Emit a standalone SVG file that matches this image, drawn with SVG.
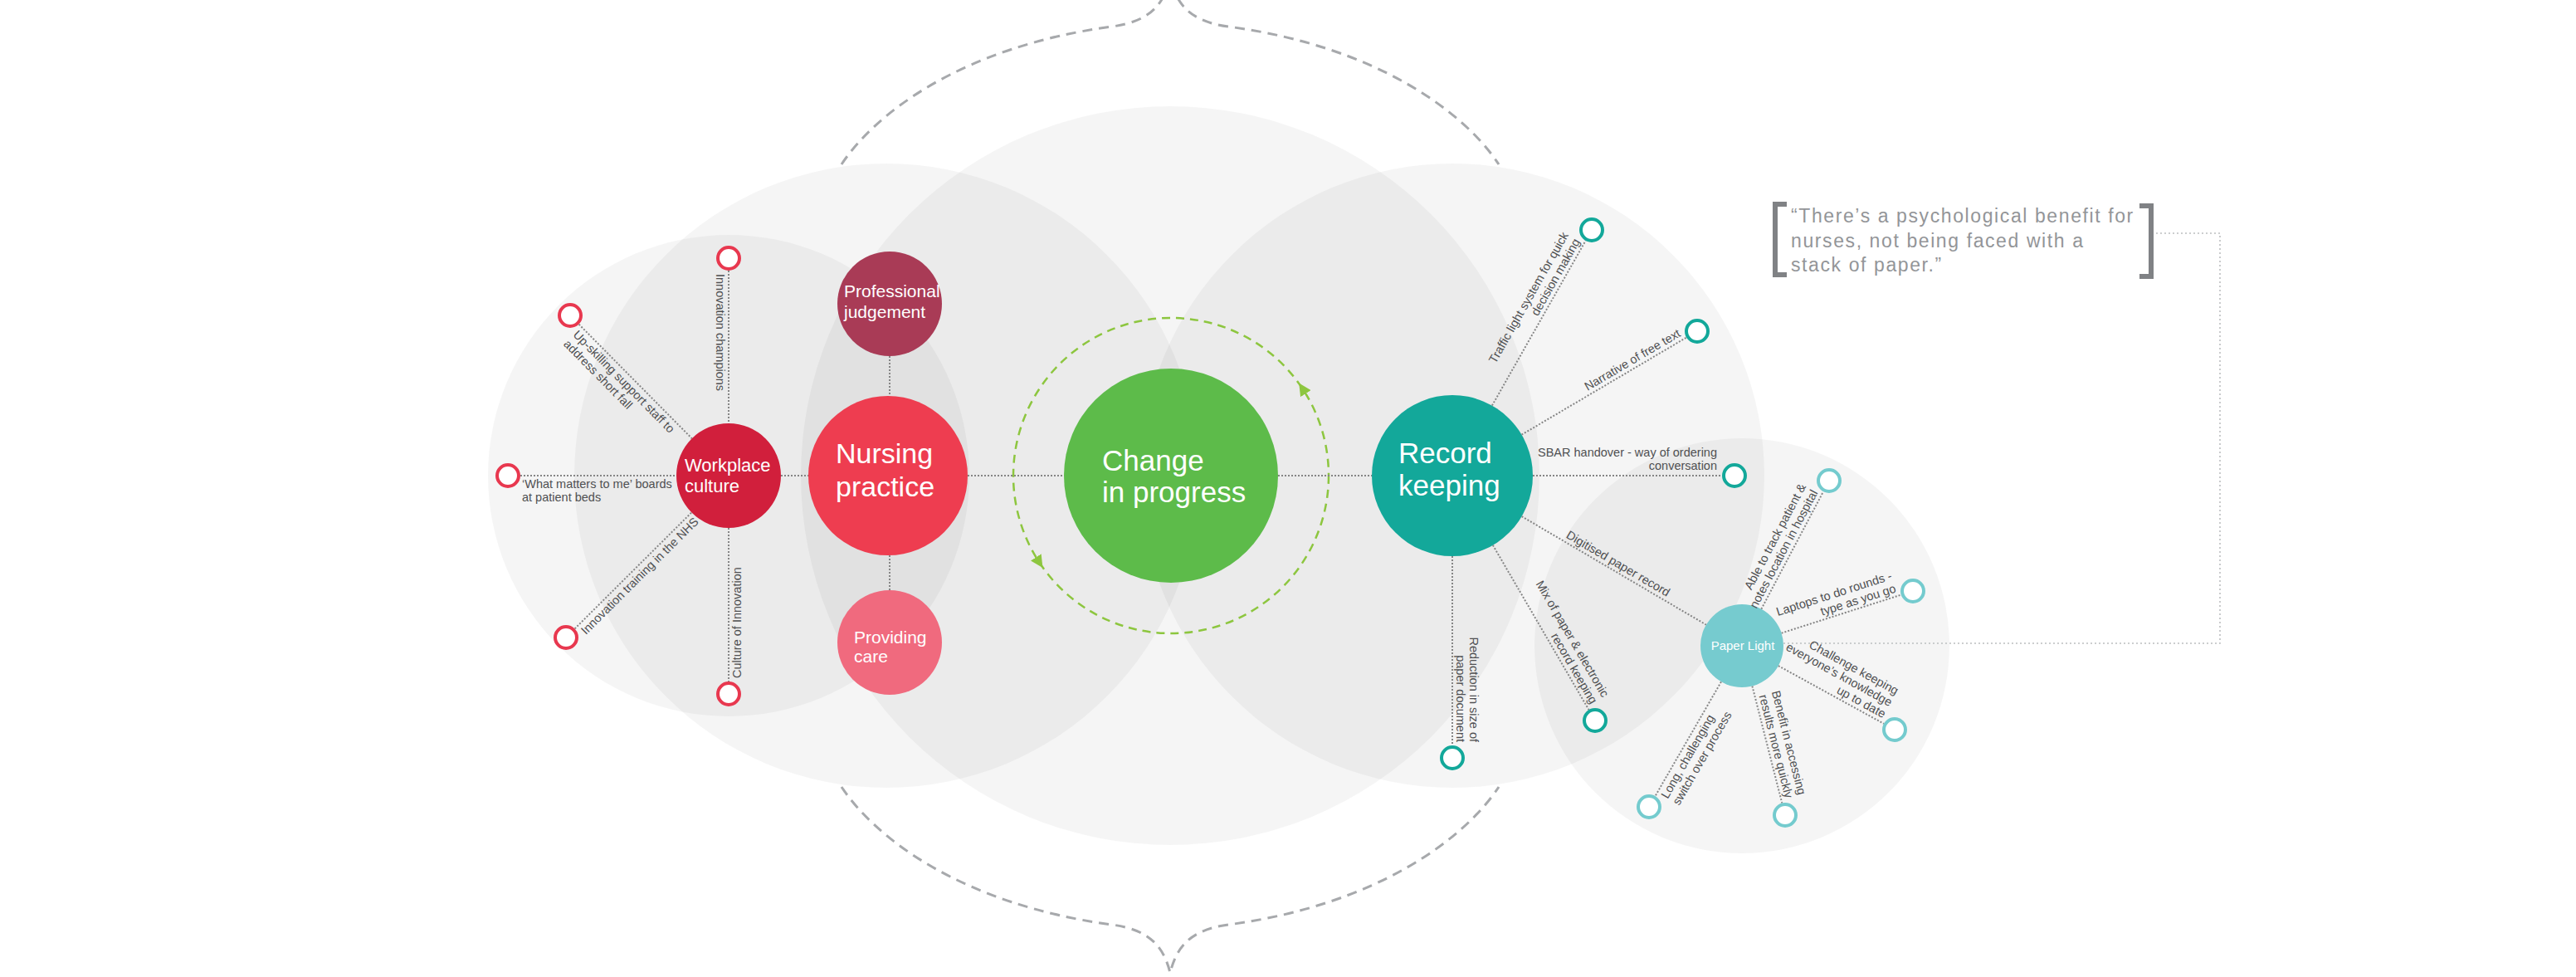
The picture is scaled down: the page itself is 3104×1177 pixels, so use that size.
<svg xmlns="http://www.w3.org/2000/svg" width="3104" height="1177" viewBox="0 0 3104 1177">
<defs>
<style>
.bg{fill:#000;fill-opacity:0.041}
.frame{fill:none;stroke:#a7a9ac;stroke-width:3;stroke-dasharray:12 8}
.cyc{fill:none;stroke:#8dc63f;stroke-width:2.5;stroke-dasharray:10 7}
.dot{fill:none;stroke:#858585;stroke-width:2;stroke-dasharray:2 2}
.dotl{fill:none;stroke:#bcbec0;stroke-width:1.6;stroke-dasharray:2 3}
.ringR{fill:#fff;stroke:#e8384f;stroke-width:4}
.ringT{fill:#fff;stroke:#13a89a;stroke-width:4}
.ringL{fill:#fff;stroke:#74cbce;stroke-width:4}
.lbl{font-family:'Liberation Sans',Arial,sans-serif;font-size:14.5px;fill:#4f5052}
.end{text-anchor:end}
.mid{text-anchor:middle}
.nt{font-family:'Liberation Sans',Arial,sans-serif;fill:#fff}
.q{font-family:'Liberation Sans',Arial,sans-serif;font-size:23px;fill:#939598;letter-spacing:1.6px}
.br{fill:none;stroke:#808285;stroke-width:6}
</style>
<marker id="ga" viewBox="0 0 10 10" refX="5" refY="5" markerWidth="15" markerHeight="15" markerUnits="userSpaceOnUse" orient="auto">
<path d="M0,0 L10,5 L0,10 z" fill="#8dc63f"/>
</marker>
</defs>
<rect width="3104" height="1177" fill="#fff"/>

<g id="background">
<circle class="bg" cx="878" cy="573" r="290"/>
<circle class="bg" cx="1068" cy="573" r="376"/>
<circle class="bg" cx="1410" cy="573" r="445"/>
<circle class="bg" cx="1750" cy="573" r="376"/>
<circle class="bg" cx="2099" cy="778" r="250"/>
</g>

<g id="frame">
<path class="frame" d="M1014,198 C1055,136 1160,56 1340,32 C1385,26 1402,6 1410,-26 C1418,6 1435,26 1480,32 C1660,56 1765,136 1806,198"/>
<path class="frame" d="M1014,948 C1055,1010 1160,1090 1340,1114 C1385,1120 1402,1140 1410,1172 C1418,1140 1435,1120 1480,1114 C1660,1090 1765,1010 1806,948"/>
</g>

<g id="cycle">
<circle class="cyc" cx="1411" cy="573" r="190"/>
<path d="M1570.4,469.6 L1569.3,467.9" stroke="#8dc63f" stroke-width="1" marker-end="url(#ga)"/>
<path d="M1251.3,676 L1252.4,677.7" stroke="#8dc63f" stroke-width="1" marker-end="url(#ga)"/>
</g>

<g id="connectors">
<line class="dot" x1="627" y1="573" x2="815" y2="573"/>
<line class="dot" x1="941" y1="573" x2="975" y2="573"/>
<line class="dot" x1="1166" y1="573" x2="1282" y2="573"/>
<line class="dot" x1="1540" y1="573" x2="1653" y2="573"/>
<line class="dot" x1="1847" y1="573" x2="2075" y2="573"/>
<line class="dot" x1="1072" y1="429" x2="1072" y2="477"/>
<line class="dot" x1="1072" y1="669" x2="1072" y2="711"/>
<line class="dot" x1="878" y1="326" x2="878" y2="510"/>
<line class="dot" x1="697.6" y1="390.7" x2="833.7" y2="528.2"/>
<line class="dot" x1="692.6" y1="757.4" x2="833.3" y2="617.4"/>
<line class="dot" x1="878" y1="636" x2="878" y2="821"/>
<line class="dot" x1="1797.9" y1="488.6" x2="1910.6" y2="290"/>
<line class="dot" x1="1833.5" y1="523.7" x2="2032.1" y2="406.6"/>
<line class="dot" x1="1798.9" y1="656.8" x2="1914.4" y2="855"/>
<line class="dot" x1="1750" y1="670" x2="1750" y2="898"/>
<line class="dot" x1="1833.6" y1="622.1" x2="2055.9" y2="752.7"/>
<line class="dot" x1="2122.3" y1="733.8" x2="2197" y2="592.3"/>
<line class="dot" x1="2146.6" y1="762.7" x2="2290.7" y2="716.6"/>
<line class="dot" x1="2142.8" y1="802.1" x2="2269.9" y2="871.8"/>
<line class="dot" x1="2111.4" y1="826.5" x2="2147.3" y2="967.5"/>
<line class="dot" x1="2074" y1="821.3" x2="1994.5" y2="959"/>
<polyline class="dotl" points="2598,281 2675,281 2675,775 2149,775"/>
<text class="lbl mid" transform="translate(1750,573) rotate(30.43)" x="226" y="-5">Digitised paper record</text>
</g>

<g id="workplace-culture">
<circle cx="878" cy="573" r="63" fill="#d11f3c"/>
<text class="nt" font-size="22"><tspan x="825" y="568">Workplace</tspan><tspan x="825" y="593">culture</tspan></text>
</g>
<g id="nursing-practice">
<circle cx="1070" cy="573" r="96" fill="#ee3d50"/>
<text class="nt" font-size="34"><tspan x="1007" y="558">Nursing</tspan><tspan x="1007" y="598">practice</tspan></text>
</g>
<g id="professional-judgement">
<circle cx="1072" cy="366" r="63" fill="#a93b56"/>
<text class="nt" font-size="21"><tspan x="1017" y="358">Professional</tspan><tspan x="1017" y="383">judgement</tspan></text>
</g>
<g id="providing-care">
<circle cx="1072" cy="774" r="63" fill="#f06a7e"/>
<text class="nt" font-size="21"><tspan x="1029" y="775">Providing</tspan><tspan x="1029" y="798">care</tspan></text>
</g>
<g id="change-in-progress">
<circle cx="1411" cy="573" r="129" fill="#5dbb4a"/>
<text class="nt" font-size="35"><tspan x="1328" y="567">Change</tspan><tspan x="1328" y="605">in progress</tspan></text>
</g>
<g id="record-keeping">
<circle cx="1750" cy="573" r="97" fill="#13a89a"/>
<text class="nt" font-size="35"><tspan x="1685" y="558">Record</tspan><tspan x="1685" y="597">keeping</tspan></text>
</g>
<g id="paper-light">
<circle cx="2099" cy="778" r="50" fill="#76cbcf"/>
<text class="nt mid" font-size="15" x="2100" y="783">Paper Light</text>
</g>

<g id="w-champions">
<circle class="ringR" cx="878" cy="311" r="13"/>
<text class="lbl" transform="translate(878,311) rotate(90)" x="19" y="15">Innovation champions</text>
</g>
<g id="w-upskilling">
<circle class="ringR" cx="687" cy="380" r="13"/>
<text class="lbl" transform="translate(687,380) rotate(45.3)"><tspan x="19" y="15">Up-skilling support staff to</tspan><tspan x="19" y="31">address short fall</tspan></text>
</g>
<g id="w-what-matters">
<circle class="ringR" cx="612" cy="573" r="13"/>
<text class="lbl" transform="translate(612,573)"><tspan x="17" y="15">‘What matters to me’ boards</tspan><tspan x="17" y="31">at patient beds</tspan></text>
</g>
<g id="w-training">
<circle class="ringR" cx="682" cy="768" r="13"/>
<text class="lbl" transform="translate(682,768) rotate(-44.85)" x="19" y="15">Innovation training in the NHS</text>
</g>
<g id="w-culture-innovation">
<circle class="ringR" cx="878" cy="836" r="13"/>
<text class="lbl" transform="translate(878,836) rotate(-90)" x="19" y="15">Culture of Innovation</text>
</g>

<g id="r-traffic">
<circle class="ringT" cx="1918" cy="277" r="13"/>
<text class="lbl end" transform="translate(1918,277) rotate(-60.42)"><tspan x="-19" y="-21">Traffic light system for quick</tspan><tspan x="-19" y="-5">decision making</tspan></text>
</g>
<g id="r-narrative">
<circle class="ringT" cx="2045" cy="399" r="13"/>
<text class="lbl end" transform="translate(2045,399) rotate(-30.53)" x="-19" y="-5">Narrative of free text</text>
</g>
<g id="r-sbar">
<circle class="ringT" cx="2090" cy="573" r="13"/>
<text class="lbl end" transform="translate(2090,573)"><tspan x="-21" y="-23">SBAR handover - way of ordering</tspan><tspan x="-21" y="-7">conversation</tspan></text>
</g>
<g id="r-mix">
<circle class="ringT" cx="1922" cy="868" r="13"/>
<text class="lbl end" transform="translate(1922,868) rotate(59.75)"><tspan x="-19" y="-21">Mix of paper &amp; electronic</tspan><tspan x="-19" y="-5">record keeping</tspan></text>
</g>
<g id="r-reduction">
<circle class="ringT" cx="1750" cy="913" r="13"/>
<text class="lbl end" transform="translate(1750,913) rotate(90)"><tspan x="-19" y="-21">Reduction in size of</tspan><tspan x="-19" y="-5">paper document</tspan></text>
</g>

<g id="p-able">
<circle class="ringL" cx="2204" cy="579" r="13"/>
<text class="lbl end" transform="translate(2204,579) rotate(-62.18)"><tspan x="-19" y="-21">Able to track patient &amp;</tspan><tspan x="-19" y="-5">notes location in hospital</tspan></text>
</g>
<g id="p-laptops">
<circle class="ringL" cx="2305" cy="712" r="13"/>
<text class="lbl end" transform="translate(2305,712) rotate(-17.77)"><tspan x="-19" y="-21">Laptops to do rounds -</tspan><tspan x="-19" y="-5">type as you go</tspan></text>
</g>
<g id="p-challenge">
<circle class="ringL" cx="2283" cy="879" r="13"/>
<text class="lbl end" transform="translate(2283,879) rotate(28.76)"><tspan x="-19" y="-37">Challenge keeping</tspan><tspan x="-19" y="-21">everyone’s knowledge</tspan><tspan x="-19" y="-5">up to date</tspan></text>
</g>
<g id="p-benefit">
<circle class="ringL" cx="2151" cy="982" r="13"/>
<text class="lbl end" transform="translate(2151,982) rotate(75.7)"><tspan x="-19" y="-21">Benefit in accessing</tspan><tspan x="-19" y="-5">results more quickly</tspan></text>
</g>
<g id="p-long">
<circle class="ringL" cx="1987" cy="972" r="13"/>
<text class="lbl" transform="translate(1987,972) rotate(-60)"><tspan x="19" y="15">Long, challenging</tspan><tspan x="19" y="31">switch over process</tspan></text>
</g>

<g id="quote">
<path class="br" d="M2153,246 H2139 V331 H2153"/>
<path class="br" d="M2578,248 H2592 V333 H2578"/>
<text class="q"><tspan x="2158" y="268">“There’s a psychological benefit for</tspan><tspan x="2158" y="298">nurses, not being faced with a</tspan><tspan x="2158" y="327">stack of paper.”</tspan></text>
</g>
</svg>
